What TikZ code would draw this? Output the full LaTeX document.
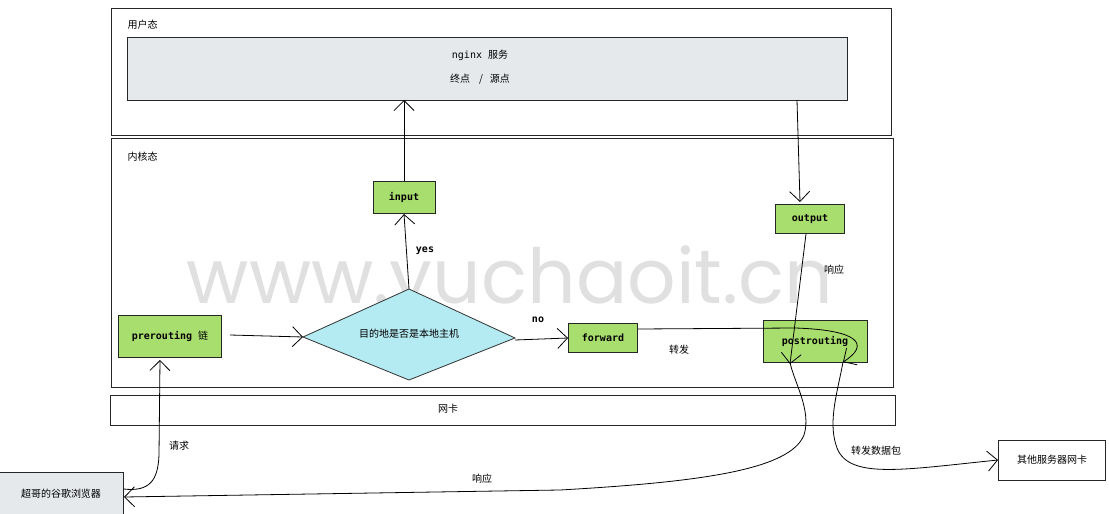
\documentclass[tikz,border=0pt]{standalone}
\usepackage{fontspec}
\setmainfont{Noto Sans CJK SC}
\setmonofont{DejaVu Sans Mono}
\newfontfamily\wmfont{Poppins}
\usetikzlibrary{arrows.meta}
\definecolor{chain}{HTML}{A8DE6E}
\definecolor{graybox}{HTML}{E6E9EC}
\definecolor{cyanfill}{HTML}{B4EAF2}
\tikzset{
  frame/.style={draw=black!85, line width=0.9pt},
  chainbox/.style={draw=black!85, line width=0.9pt, fill=chain, minimum height=30pt, inner xsep=6pt, font=\ttfamily\bfseries\fontsize{10}{12}\selectfont},
  lbl/.style={font=\fontsize{10}{12}\selectfont},
  mlbl/.style={font=\ttfamily\bfseries\fontsize{10}{12}\selectfont},
  arr/.style={draw=black, line width=0.8pt, -{Straight Barb[length=10pt,width=20pt,line width=0.8pt]}},
}
\begin{document}
\begin{tikzpicture}[x=1pt,y=-1pt]
\useasboundingbox (0,0) rectangle (1109,514);
% watermark
\node[text=black!12, font=\wmfont\fontsize{76}{78}\selectfont, anchor=base, inner sep=0pt, text height=36pt, text depth=0pt] (wm) at (510,303) {www.yuchaoit.cn};
% frames
\draw[frame] (111,8) rectangle (891,135);
\node[lbl, anchor=west] (user) at (124,25) {用户态};
\draw[frame, fill=graybox] (127,37) rectangle (847,100);
\coordinate (ngin) at (404,100);
\coordinate (ngout) at (797,100);
\node[lbl] (ng1) at (480,55) {\ttfamily nginx\ \normalfont 服务};
\node[lbl] (ng2) at (480,79) {终点\ \ \ \ /\ \ \ 源点};
\draw[frame] (111,138) rectangle (893,387);
\node[lbl, anchor=west] (kern) at (124,157) {内核态};
\draw[frame] (110,395) rectangle (895,425);
\node[lbl] (nic) at (448,409) {网卡};
% nodes
\node[chainbox, minimum width=62pt, minimum height=32pt] (input) at (404,197) {input};
\node[chainbox, minimum width=69pt, minimum height=29pt] (output) at (810,219) {output};
\node[chainbox, minimum width=103pt, minimum height=42pt] (pre) at (170,336) {prerouting \normalfont 链};
\node[chainbox, minimum width=69pt, minimum height=29pt] (fwd) at (603,338) {forward};
\node[chainbox, minimum width=104pt, minimum height=42pt] (post) at (815,341) {postrouting};
\draw[draw=black!80, line width=0.8pt, fill=cyanfill] (303,337) -- (409,289) -- (515,338) -- (409,380) -- cycle;
\node[lbl] (dec) at (409,334) {目的地是否是本地主机};
\coordinate (decL) at (303,337);
\coordinate (decT) at (409,289);
\coordinate (decR) at (515,340);
\node[draw=black!85, line width=0.9pt, fill=graybox, minimum width=124pt, minimum height=44pt, lbl] (browser) at (61,494) {超哥的谷歌浏览器};
\node[draw=black!85, line width=0.9pt, minimum width=107pt, minimum height=40pt, lbl] (other) at (1052,460) {其他服务器网卡};
% arrows
\draw[arr] (pre.east) ++(8,-1) -- (decL);
\draw[arr] (decT) -- (404,214);
\node[mlbl] (yes) at (425,251) {yes};
\draw[arr] (input.north) -- (ngin);
\draw[arr] (ngout) -- (800,202);
\draw[arr] (decR) -- (fwd.west);
\node[mlbl] (no) at (538,320) {no};
\draw[arr] (fwd.east) ++(0,-9) -- (795,328) .. controls (860,330) and (870,345) .. (843,362);
\node[lbl] (zf) at (679,350) {转发};
\draw[arr] (output.south) ++(-4,0) -- (790,364);
\node[lbl] (xy1) at (834,270) {响应};
\draw[arr] (790,362) .. controls (793,380) and (812,410) .. (804,435) .. controls (790,470) and (700,482) .. (560,490) -- (124,497);
\node[lbl] (xy2) at (482,479) {响应};
\draw[arr] (843,362) .. controls (838,390) and (828,420) .. (836,445) .. controls (846,480) and (900,470) .. (other.west);
\node[lbl] (zfp) at (876,451) {转发数据包};
\draw[arr] (browser.east) ++(0,-5) .. controls (150,492) and (158,480) .. (159,455) -- (160,360);
\node[lbl] (qq) at (179,446) {请求};
\end{tikzpicture}
\end{document}
